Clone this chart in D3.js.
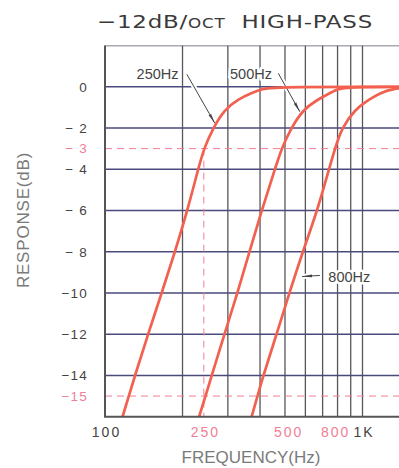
<!DOCTYPE html>
<html>
<head>
<meta charset="utf-8">
<script src="https://cdn.jsdelivr.net/npm/d3@7"></script>
<style>
  body { margin: 0; background: #fff; }
  svg { display: block; font-family: "Liberation Sans", Arial, sans-serif; }
</style>
</head>
<body>
<div id="chart"></div>
<script>
// curves: [frequency Hz, response dB]
const curve250 = [[117,-16],[123.7,-15],[130.8,-14],[147,-12],[166,-10],[187,-8],[209,-6],[230,-4],[242,-3],[263,-2],[291,-1.1],[329,-0.6],[372,-0.3],[407,-0.1],[462,0],[2000,0]]
const curve500 = [[232,-16],[245.6,-15],[259.6,-14],[291,-12],[327,-10],[364,-8],[406,-6],[457,-4],[485,-3],[528,-2],[589,-1.1],[664,-0.65],[748,-0.3],[804,-0.1],[894,0],[2000,0]]
const curve800 = [[371,-16],[391,-15],[412,-14],[464,-12],[520,-10],[586,-8],[668,-6],[741,-4],[782,-3],[830,-2],[935,-1.1],[1053,-0.65],[1169,-0.3],[1313,-0.1],[1556,0],[2000,0]]

const yTicks = [0, -2, -3, -4, -6, -8, -10, -12, -14, -15]
const yTickText = ["0", "\u2212 2", "\u2212 3", "\u2212 4", "\u2212 6", "\u2212 8", "\u221210", "\u221212", "\u221214", "\u221215"]
const yGrid = [0, -2, -4, -6, -8, -10, -12, -14, 2]
// label centres as printed (the 250 mark sits on the dashed line)
const xTicks = [100, 242, 510, 776, 1000]
const xTickText = ["100", "250", "500", "800", "1K"]
const xGrid = [200, 300, 400, 500, 600, 700, 800, 900, 1000, 2000]
const pinkTicks = ["\u2212 3", "\u221215", "250", "500", "800"]
const dashedDb = [-3, -15]
const markerHz = 242   // dashed vertical, where the 250Hz curve meets -3dB

const notes = [
  {text: "250Hz", at: [160, 0.65], from: [208, 0.6], to: [267, -1.77], anchor: "middle"},
  {text: "500Hz", at: [369, 0.65], from: [471, 0.65], to: [571, -1.21], anchor: "middle"},
  {text: "800Hz", at: [737, -9.2], from: [683, -9.15], to: [583, -9.2], anchor: "start"}
]

const width = 399, height = 468
const plot = {left: 105, top: 45.5, bottom: 416.7}
const decade = 257.5

const pink = "#ef8096"
const red = "#f2614f"

const x = d3.scaleLog().domain([100, 2000]).range([plot.left, plot.left + decade * Math.log10(20)])
const y = d3.scaleLinear().domain([-16, 2]).range([plot.bottom, plot.top])

const svg = d3.select("#chart").append("svg")
    .attr("width", width)
    .attr("height", height)

const defs = svg.append("defs")
defs.append("clipPath").attr("id", "clip")
    .append("rect")
    .attr("x", plot.left).attr("y", plot.top)
    .attr("width", width - plot.left).attr("height", plot.bottom - plot.top)
defs.append("marker")
    .attr("id", "arrow")
    .attr("viewBox", "0 0 10 4")
    .attr("refX", 10).attr("refY", 2)
    .attr("markerWidth", 10).attr("markerHeight", 4)
    .attr("markerUnits", "userSpaceOnUse")
    .attr("orient", "auto")
    .append("path")
    .attr("d", "M0,0.6 L10,2 L0,3.4 Z")
    .attr("fill", "#444")

// title, stretched wide like the printed lettering
const title = svg.append("text")
    .attr("y", 28.5)
    .attr("fill", "#3a3a3a")
    .attr("font-family", "DejaVu Sans, sans-serif")
    .attr("font-size", 18.5)
    .attr("letter-spacing", 0.6)
title.append("tspan").text("\u221212dB/")
title.append("tspan").attr("font-size", 13.5).text("OCT")
title.append("tspan").text("\u00a0\u00a0HIGH-PASS")
const tw = title.node().getComputedTextLength()
title.attr("transform", `translate(97,0) scale(${276 / tw},1)`)

// grid
const grid = svg.append("g").attr("clip-path", "url(#clip)")
grid.selectAll("line.v")
    .data(xGrid)
    .join("line")
    .attr("class", "v")
    .attr("x1", d => x(d)).attr("x2", d => x(d))
    .attr("y1", y(2)).attr("y2", y(-16))
    .attr("stroke", "#56565c")
    .attr("stroke-width", 1.3)
grid.selectAll("line.h")
    .data(yGrid)
    .join("line")
    .attr("class", "h")
    .attr("x1", x(100)).attr("x2", width)
    .attr("y1", d => y(d)).attr("y2", d => y(d))
    .attr("stroke", d => d === 2 ? "#555566" : "#4a4a7c")
    .attr("stroke-width", 1.4)

// dashed reference lines
grid.selectAll("line.dash")
    .data(dashedDb)
    .join("line")
    .attr("class", "dash")
    .attr("x1", x(100)).attr("x2", width)
    .attr("y1", d => y(d)).attr("y2", d => y(d))
    .attr("stroke", pink)
    .attr("stroke-width", 1)
    .attr("stroke-dasharray", "7,5")
grid.append("line")
    .attr("x1", x(markerHz)).attr("x2", x(markerHz))
    .attr("y1", y(-3)).attr("y2", y(-16))
    .attr("stroke", pink)
    .attr("stroke-width", 1)
    .attr("stroke-dasharray", "7,5")

// annotations (white halo cuts the grid like the print)
const ann = svg.append("g")
notes.forEach(n => {
    ann.append("line")
        .attr("x1", x(n.from[0])).attr("y1", y(n.from[1]))
        .attr("x2", x(n.to[0])).attr("y2", y(n.to[1]))
        .attr("stroke", "#fff").attr("stroke-width", 5)
    ann.append("text")
        .attr("x", x(n.at[0])).attr("y", y(n.at[1]))
        .attr("dy", "0.36em")
        .attr("text-anchor", n.anchor)
        .attr("font-size", 14.5)
        .attr("fill", "#444")
        .attr("stroke", "#fff").attr("stroke-width", 5)
        .attr("paint-order", "stroke")
        .attr("stroke-linejoin", "round")
        .text(n.text)
    ann.append("line")
        .attr("x1", x(n.from[0])).attr("y1", y(n.from[1]))
        .attr("x2", x(n.to[0])).attr("y2", y(n.to[1]))
        .attr("stroke", "#444").attr("stroke-width", 1)
        .attr("marker-end", "url(#arrow)")
})

// curves
const line = d3.line()
    .x(d => x(d[0]))
    .y(d => y(d[1]))
    .curve(d3.curveBasis)
svg.append("g").attr("clip-path", "url(#clip)")
    .selectAll("path")
    .data([curve250, curve500, curve800])
    .join("path")
    .attr("d", line)
    .attr("fill", "none")
    .attr("stroke", red)
    .attr("stroke-width", 2.7)

// frame: left and bottom axes
svg.append("path")
    .attr("d", `M${x(100)},${y(2)}V${y(-16)}H${width}`)
    .attr("fill", "none")
    .attr("stroke", "#555")
    .attr("stroke-width", 2)

// y axis labels
const yAxis = d3.axisLeft(y)
    .tickValues(yTicks)
    .tickFormat((d, i) => yTickText[i])
    .tickSize(0)
    .tickPadding(17)
const gy = svg.append("g")
    .attr("transform", `translate(${x(100)},0)`)
    .call(yAxis)
gy.select(".domain").remove()
gy.selectAll("text")
    .attr("font-family", "Liberation Sans, Arial, sans-serif")
    .attr("font-size", 13.5)
    .attr("letter-spacing", 1.2)
    .attr("fill", function() { return pinkTicks.includes(this.textContent) ? pink : "#444" })

// x axis labels
const xAxis = d3.axisBottom(x)
    .tickValues(xTicks)
    .tickFormat((d, i) => xTickText[i])
    .tickSize(0)
    .tickPadding(10)
const gx = svg.append("g")
    .attr("transform", `translate(0,${y(-16)})`)
    .call(xAxis)
gx.select(".domain").remove()
gx.selectAll("text")
    .attr("font-family", "Liberation Sans, Arial, sans-serif")
    .attr("font-size", 14)
    .attr("letter-spacing", 2)
    .attr("dx", 1)
    .attr("fill", function() { return pinkTicks.includes(this.textContent) ? pink : "#444" })

// axis titles
svg.append("text")
    .attr("transform", `translate(23,220) rotate(-90)`)
    .attr("text-anchor", "middle")
    .attr("dy", "0.36em")
    .attr("font-size", 17)
    .attr("letter-spacing", 0.8)
    .attr("fill", "#7a7a7a")
    .text("RESPONSE(dB)")
svg.append("text")
    .attr("x", 251).attr("y", 463)
    .attr("text-anchor", "middle")
    .attr("font-size", 17)
    .attr("fill", "#7a7a7a")
    .text("FREQUENCY(Hz)")
</script>
</body>
</html>
